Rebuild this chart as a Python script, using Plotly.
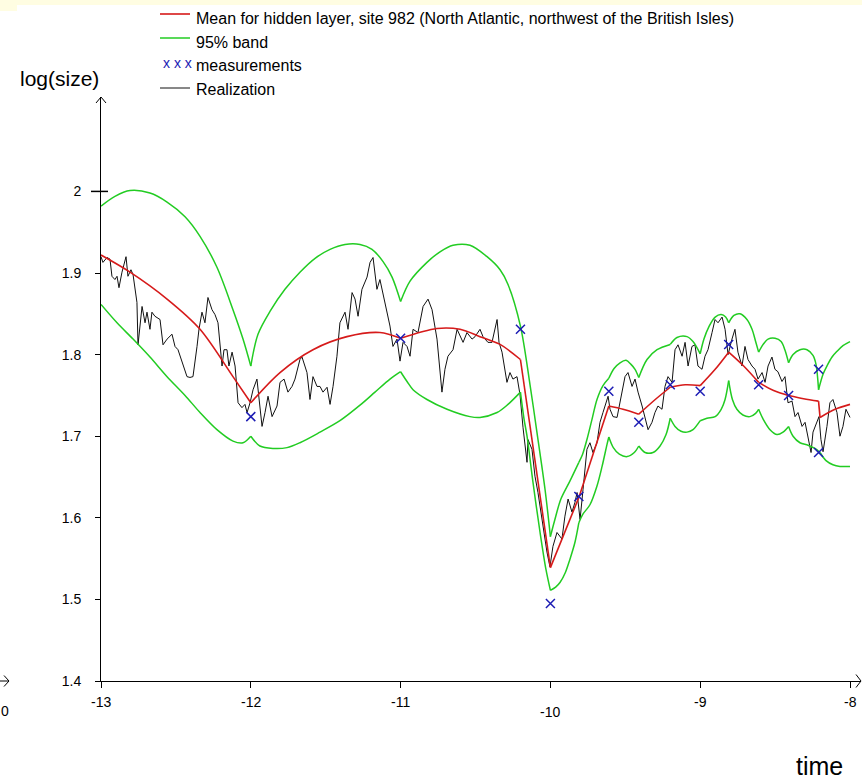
import plotly.graph_objects as go

# ---------------------------------------------------------------- data
# measured log(size) at the observation times
meas_t = [-12.0, -11.0, -10.2, -10.0, -9.81, -9.61, -9.41, -9.2, -9.0, -8.81, -8.61, -8.41, -8.21, -8.21]
meas_v = [1.724, 1.820, 1.831, 1.495, 1.626, 1.755, 1.717, 1.763, 1.755, 1.8125, 1.763, 1.750, 1.782, 1.680]

# smoothed mean of the hidden layer (pieces between observation times)
mean_t = [-13.0, -12.806, -12.559, -12.339, -12.119, -12.0, None,
          -12.0, -11.805, -11.585, -11.358, -11.138, -11.0, None,
          -11.0, -10.757, -10.603, -10.47, -10.336, -10.2, None,
          -10.2, -10.0, None,
          -10.0, -9.81, None,
          -9.81, -9.61, None,
          -9.61, -9.515, -9.41, None,
          -9.41, -9.30, -9.2, None,
          -9.2, -9.10, -9.0, None,
          -9.0, -8.90, -8.81, None,
          -8.81, -8.71, -8.61, None,
          -8.61, -8.51, -8.41, None,
          -8.41, -8.31, -8.21, None,
          -8.21, -8.20, None,
          -8.20, -8.10, -8.0]
mean_v = [1.922, 1.901, 1.868, 1.831, 1.773, 1.741, None,
          1.741, 1.778, 1.806, 1.822, 1.827, 1.820, None,
          1.820, 1.832, 1.831, 1.822, 1.8125, 1.794, None,
          1.794, 1.539, None,
          1.539, 1.625, None,
          1.625, 1.737, None,
          1.737, 1.733, 1.727, None,
          1.727, 1.745, 1.760, None,
          1.760, 1.763, 1.762, None,
          1.762, 1.782, 1.803, None,
          1.803, 1.786, 1.766, None,
          1.766, 1.756, 1.750, None,
          1.750, 1.746, 1.743, None,
          1.743, 1.723, None,
          1.723, 1.733, 1.739]

# upper limit of the 95% band
upper_t = [-13.0, -12.907, -12.806, -12.673, -12.559, -12.439, -12.339, -12.226, -12.119, -12.052, -12.0, None,
           -12.0, -11.952, -11.872, -11.772, -11.672, -11.571, -11.471, -11.371, -11.271, -11.191, -11.117, -11.057, -11.0, None,
           -11.0, -10.937, -10.824, -10.737, -10.650, -10.537, -10.423, -10.336, -10.283, -10.2, -10.136, -10.090, -10.036, -10.0, None,
           -10.0, -9.97, -9.93, -9.87, -9.81, None,
           -9.81, -9.785, -9.756, -9.722, -9.689, -9.649, -9.61, None,
           -9.61, -9.575, -9.535, -9.495, -9.462, -9.435, -9.41, None,
           -9.41, -9.355, -9.288, -9.2, None,
           -9.2, -9.155, -9.088, -9.048, -9.0, None,
           -9.0, -8.975, -8.94, -8.90, -8.86, -8.83, -8.81, None,
           -8.81, -8.775, -8.735, -8.688, -8.654, -8.63, -8.61, None,
           -8.61, -8.58, -8.547, -8.50, -8.46, -8.435, -8.41, None,
           -8.41, -8.38, -8.334, -8.287, -8.247, -8.227, -8.21, None,
           -8.21, -8.18, -8.154, -8.12, -8.087, -8.047, -8.0]
upper_v = [1.982, 1.994, 2.001, 1.998, 1.987, 1.969, 1.945, 1.907, 1.855, 1.819, 1.786, None,
           1.786, 1.825, 1.853, 1.880, 1.901, 1.918, 1.929, 1.935, 1.935, 1.929, 1.914, 1.895, 1.865, None,
           1.865, 1.890, 1.913, 1.926, 1.934, 1.934, 1.920, 1.904, 1.886, 1.835, 1.763, 1.705, 1.635, 1.577, None,
           1.577, 1.598, 1.623, 1.645, 1.668, None,
           1.668, 1.678, 1.696, 1.721, 1.745, 1.762, 1.771, None,
           1.771, 1.783, 1.790, 1.793, 1.788, 1.782, 1.772, None,
           1.772, 1.794, 1.806, 1.8125, None,
           1.8125, 1.821, 1.822, 1.816, 1.801, None,
           1.801, 1.819, 1.835, 1.846, 1.849, 1.846, 1.839, None,
           1.839, 1.848, 1.850, 1.843, 1.831, 1.816, 1.803, None,
           1.803, 1.8125, 1.819, 1.820, 1.816, 1.806, 1.790, None,
           1.790, 1.800, 1.806, 1.806, 1.799, 1.788, 1.757, None,
           1.757, 1.776, 1.786, 1.797, 1.804, 1.811, 1.816]

# lower limit of the 95% band
lower_t = [-13.0, -12.893, -12.786, -12.673, -12.559, -12.439, -12.339, -12.226, -12.119, -12.052, -12.0, None,
           -12.0, -11.939, -11.852, -11.758, -11.672, -11.538, -11.405, -11.271, -11.171, -11.071, -11.0, None,
           -11.0, -10.957, -10.917, -10.824, -10.690, -10.537, -10.470, -10.356, -10.283, -10.2, None,
           -10.2, -10.176, -10.156, -10.116, -10.069, -10.03, -10.0, None,
           -10.0, -9.965, -9.935, -9.90, -9.87, -9.836, -9.81, None,
           -9.81, -9.785, -9.736, -9.689, -9.655, -9.622, -9.61, None,
           -9.61, -9.58, -9.54, -9.488, -9.44, -9.41, None,
           -9.41, -9.368, -9.315, -9.268, -9.228, -9.2, None,
           -9.2, -9.168, -9.128, -9.088, -9.048, -9.0, None,
           -9.0, -8.955, -8.90, -8.86, -8.834, -8.81, None,
           -8.81, -8.785, -8.755, -8.715, -8.668, -8.63, -8.61, None,
           -8.61, -8.58, -8.534, -8.487, -8.447, -8.41, None,
           -8.41, -8.38, -8.334, -8.28, -8.234, -8.2, None,
           -8.2, -8.16, -8.114, -8.067, -8.0]
lower_v = [1.8615, 1.839, 1.819, 1.797, 1.773, 1.750, 1.729, 1.708, 1.694, 1.692, 1.700, None,
           1.700, 1.688, 1.685, 1.686, 1.692, 1.705, 1.719, 1.738, 1.754, 1.770, 1.779, None,
           1.779, 1.767, 1.757, 1.745, 1.733, 1.724, 1.723, 1.729, 1.739, 1.754, None,
           1.754, 1.721, 1.700, 1.643, 1.582, 1.537, 1.511, None,
           1.511, 1.515, 1.521, 1.533, 1.549, 1.570, 1.594, None,
           1.594, 1.604, 1.616, 1.639, 1.663, 1.690, 1.699, None,
           1.699, 1.686, 1.678, 1.675, 1.680, 1.688, None,
           1.688, 1.680, 1.680, 1.688, 1.702, 1.722, None,
           1.722, 1.712, 1.706, 1.705, 1.708, 1.719, None,
           1.719, 1.722, 1.724, 1.733, 1.745, 1.768, None,
           1.768, 1.745, 1.733, 1.726, 1.724, 1.728, 1.733, None,
           1.733, 1.721, 1.708, 1.702, 1.705, 1.712, None,
           1.712, 1.700, 1.692, 1.689, 1.685, 1.680, None,
           1.680, 1.670, 1.665, 1.663, 1.663]

# one simulated path of the hidden process
real_t = [-13.000, -12.987, -12.960, -12.940, -12.927, -12.907, -12.893, -12.880, -12.860, -12.833,
          -12.820, -12.800, -12.786, -12.760, -12.753, -12.726, -12.706, -12.693, -12.673, -12.660,
          -12.640, -12.606, -12.586, -12.559, -12.526, -12.506, -12.486, -12.459, -12.426, -12.406,
          -12.386, -12.359, -12.346, -12.326, -12.306, -12.286, -12.259, -12.239, -12.219, -12.192,
          -12.179, -12.159, -12.146, -12.125, -12.105, -12.085, -12.059, -12.039, -12.025, -12.005,
          -11.985, -11.959, -11.939, -11.925, -11.905, -11.885, -11.858, -11.825, -11.805, -11.778,
          -11.752, -11.725, -11.705, -11.672, -11.658, -11.625, -11.605, -11.585, -11.558, -11.538,
          -11.518, -11.491, -11.471, -11.451, -11.425, -11.405, -11.371, -11.351, -11.324, -11.304,
          -11.284, -11.258, -11.224, -11.204, -11.184, -11.158, -11.138, -11.104, -11.071, -11.051,
          -11.024, -11.004, -10.984, -10.957, -10.937, -10.917, -10.884, -10.850, -10.817, -10.790,
          -10.757, -10.724, -10.704, -10.684, -10.650, -10.623, -10.603, -10.583, -10.557, -10.523,
          -10.503, -10.470, -10.450, -10.417, -10.390, -10.356, -10.343, -10.323, -10.290, -10.270,
          -10.250, -10.223, -10.203, -10.183, -10.156, -10.150, -10.123, -10.103, -10.083, -10.049,
          -10.023, -10.003, -9.983, -9.956, -9.923, -9.903, -9.882, -9.856, -9.836, -9.822,
          -9.802, -9.782, -9.756, -9.736, -9.716, -9.689, -9.669, -9.649, -9.615, -9.602,
          -9.582, -9.555, -9.535, -9.502, -9.482, -9.455, -9.435, -9.415, -9.388, -9.368,
          -9.348, -9.322, -9.302, -9.282, -9.255, -9.235, -9.215, -9.188, -9.168, -9.148,
          -9.121, -9.101, -9.081, -9.055, -9.035, -9.015, -8.988, -8.968, -8.948, -8.921,
          -8.901, -8.881, -8.854, -8.834, -8.814, -8.788, -8.768, -8.748, -8.721, -8.701,
          -8.681, -8.654, -8.634, -8.614, -8.587, -8.567, -8.547, -8.521, -8.501, -8.481,
          -8.454, -8.434, -8.414, -8.387, -8.367, -8.347, -8.320, -8.300, -8.280, -8.260,
          -8.247, -8.220, -8.207, -8.194, -8.180, -8.154, -8.134, -8.114, -8.087, -8.067,
          -8.047, -8.027, -8.000]
real_v = [1.920, 1.913, 1.919, 1.917, 1.896, 1.892, 1.896, 1.882, 1.901, 1.920,
          1.896, 1.904, 1.898, 1.864, 1.812, 1.859, 1.839, 1.852, 1.831, 1.852,
          1.847, 1.843, 1.812, 1.819, 1.825, 1.810, 1.806, 1.790, 1.773, 1.772,
          1.773, 1.810, 1.831, 1.852, 1.839, 1.870, 1.855, 1.849, 1.839, 1.786,
          1.806, 1.806, 1.786, 1.803, 1.786, 1.741, 1.735, 1.739, 1.729, 1.741,
          1.757, 1.770, 1.733, 1.712, 1.729, 1.749, 1.724, 1.737, 1.766, 1.770,
          1.754, 1.761, 1.770, 1.794, 1.797, 1.778, 1.745, 1.773, 1.761, 1.761,
          1.754, 1.760, 1.739, 1.761, 1.798, 1.839, 1.852, 1.831, 1.876, 1.868,
          1.847, 1.880, 1.895, 1.913, 1.919, 1.880, 1.892, 1.864, 1.835, 1.810,
          1.819, 1.792, 1.815, 1.810, 1.798, 1.831, 1.827, 1.859, 1.868, 1.855,
          1.819, 1.754, 1.782, 1.798, 1.806, 1.831, 1.822, 1.815, 1.827, 1.819,
          1.822, 1.831, 1.822, 1.815, 1.815, 1.843, 1.815, 1.803, 1.766, 1.778,
          1.770, 1.773, 1.751, 1.711, 1.668, 1.696, 1.684, 1.651, 1.631, 1.589,
          1.558, 1.540, 1.565, 1.582, 1.574, 1.602, 1.623, 1.607, 1.619, 1.631,
          1.598, 1.635, 1.684, 1.692, 1.680, 1.692, 1.717, 1.729, 1.749, 1.733,
          1.724, 1.723, 1.741, 1.773, 1.778, 1.761, 1.770, 1.754, 1.737, 1.721,
          1.708, 1.717, 1.729, 1.737, 1.733, 1.761, 1.773, 1.766, 1.806, 1.812,
          1.798, 1.815, 1.786, 1.810, 1.812, 1.786, 1.782, 1.798, 1.806, 1.827,
          1.843, 1.839, 1.846, 1.831, 1.800, 1.819, 1.831, 1.803, 1.786, 1.810,
          1.794, 1.786, 1.782, 1.770, 1.778, 1.766, 1.786, 1.797, 1.782, 1.779,
          1.767, 1.773, 1.741, 1.743, 1.724, 1.729, 1.712, 1.717, 1.696, 1.680,
          1.705, 1.717, 1.724, 1.696, 1.681, 1.712, 1.741, 1.745, 1.729, 1.700,
          1.712, 1.733, 1.723]

x_ticks = [-13, -12, -11, -10, -9, -8]
x_tick_labels = ["-13", "-12", "-11", "-10", "-9", "-8"]
y_ticks = [1.4, 1.5, 1.6, 1.7, 1.8, 1.9, 2.0]
y_tick_labels = ["1.4", "1.5", "1.6", "1.7", "1.8", "1.9", "2"]

legend_labels = ["Mean for hidden layer, site 982 (North Atlantic, northwest of the British Isles)",
                 "95% band", "measurements", "Realization"]

# ---------------------------------------------------------------- style
FONT = "Liberation Sans, Arial, sans-serif"
RED = "#d61a1a"
GREEN = "#22cc22"
BLUE = "#1c1cb4"
INK = "#111111"

W, H = 862, 781
ML, MR, MT, MB = 101, 1, 97, 100
X_RANGE = [-13.0, -7.9266]
Y_RANGE = [1.4, 2.1157]


def paper_x(p):
    return (p - ML) / (W - ML - MR)


def paper_y(p):
    return (H - MB - p) / (H - MT - MB)


fig = go.Figure()

fig.add_trace(go.Scatter(x=real_t, y=real_v, mode="lines",
                         line=dict(color=INK, width=1), showlegend=False, hoverinfo="skip"))
for bt, bv in ((upper_t, upper_v), (lower_t, lower_v)):
    fig.add_trace(go.Scatter(x=bt, y=bv, mode="lines", connectgaps=False,
                             line=dict(color=GREEN, width=1.5, shape="spline", smoothing=0.9),
                             showlegend=False))
fig.add_trace(go.Scatter(x=mean_t, y=mean_v, mode="lines", connectgaps=False,
                         line=dict(color=RED, width=1.6, shape="spline", smoothing=0.9),
                         showlegend=False))
fig.add_trace(go.Scatter(x=meas_t, y=meas_v, mode="markers",
                         marker=dict(symbol="x-thin", size=9, line=dict(color=BLUE, width=1.5)),
                         showlegend=False))

shapes = []
annotations = []

# open arrow heads at the ends of both axes
shapes.append(dict(type="path", xref="paper", yref="paper", xsizemode="pixel", ysizemode="pixel",
                   xanchor=0, yanchor=1,
                   path="M -5,-6 L 0,0 L 5,-6", line=dict(color="black", width=1)))
shapes.append(dict(type="path", xref="paper", yref="paper", xsizemode="pixel", ysizemode="pixel",
                   xanchor=1, yanchor=0,
                   path="M -5,6.5 L 0,0 L -5,-6.5", line=dict(color="black", width=1)))
# longer crossing tick at 2
shapes.append(dict(type="line", xref="paper", yref="y", xsizemode="pixel",
                   xanchor=0, x0=-10, x1=7, y0=2.0, y1=2.0,
                   line=dict(color="black", width=1.5)))

# pale strip along the top edge
shapes.append(dict(type="rect", xref="paper", yref="paper", layer="below",
                   x0=paper_x(0), x1=paper_x(W), y0=paper_y(5), y1=paper_y(0),
                   fillcolor="#fffde2", line=dict(width=0)))
shapes.append(dict(type="rect", xref="paper", yref="paper", layer="below",
                   x0=paper_x(0), x1=paper_x(17), y0=paper_y(11), y1=paper_y(0),
                   fillcolor="#fffde2", line=dict(width=0)))

# axis stub at the far left edge
shapes.append(dict(type="path", xref="paper", yref="paper", xsizemode="pixel", ysizemode="pixel",
                   xanchor=paper_x(0), yanchor=0,
                   path="M 0,0 L 9,0 M 4,5.5 L 9,0 L 4,-5.5", line=dict(color="black", width=1)))
annotations.append(dict(xref="paper", yref="paper", x=paper_x(-1), y=0, xanchor="left", yanchor="top",
                        yshift=-20, text="0", showarrow=False, font=dict(family=FONT, size=14, color="black")))

# x tick labels (the one under -10 sits a little lower)
for v, lab in zip(x_ticks, x_tick_labels):
    annotations.append(dict(xref="x", yref="paper", x=v, y=0, xanchor="center", yanchor="top",
                            yshift=-11 if lab != "-10" else -21, text=lab, showarrow=False,
                            font=dict(family=FONT, size=14, color="black")))

# axis titles
annotations.append(dict(xref="paper", yref="paper", x=paper_x(59), y=paper_y(78),
                        xanchor="center", yanchor="middle", text="log(size)", showarrow=False,
                        font=dict(family=FONT, size=21, color="black")))
annotations.append(dict(xref="paper", yref="paper", x=paper_x(819), y=paper_y(766),
                        xanchor="center", yanchor="middle", text="time", showarrow=False,
                        font=dict(family=FONT, size=25, color="black")))

# legend
leg_line_rows = [(14, RED, 1.6), (38, GREEN, 1.5), (88, INK, 1)]
for row, col, w in leg_line_rows:
    shapes.append(dict(type="line", xref="paper", yref="paper",
                       x0=paper_x(160), x1=paper_x(190), y0=paper_y(row), y1=paper_y(row),
                       line=dict(color=col, width=w)))
annotations.append(dict(xref="paper", yref="paper", x=paper_x(177), y=paper_y(63),
                        xanchor="center", yanchor="middle", text="x x x", showarrow=False,
                        font=dict(family=FONT, size=14, color=BLUE)))
for lab, row in zip(legend_labels, [18, 42, 66, 90]):
    annotations.append(dict(xref="paper", yref="paper", x=paper_x(194), y=paper_y(row),
                            xanchor="left", yanchor="middle", text=lab, showarrow=False,
                            font=dict(family=FONT, size=16, color="black")))

fig.update_layout(
    width=W, height=H,
    margin=dict(l=ML, r=MR, t=MT, b=MB, pad=0),
    paper_bgcolor="white", plot_bgcolor="white",
    font=dict(family=FONT, size=14, color="black"),
    showlegend=False,
    shapes=shapes, annotations=annotations,
    xaxis=dict(range=X_RANGE, showgrid=False, zeroline=False, showline=True,
               linecolor="black", linewidth=1, ticks="outside", ticklen=6, tickwidth=1,
               tickcolor="black", tickvals=x_ticks, showticklabels=False),
    yaxis=dict(range=Y_RANGE, showgrid=False, zeroline=False, showline=True,
               linecolor="black", linewidth=1, ticks="outside", ticklen=5, tickwidth=1,
               tickcolor="black", tickvals=y_ticks, ticktext=y_tick_labels,
               tickfont=dict(family=FONT, size=14, color="black"), ticklabelstandoff=11),
)

fig.write_html("out.html")
